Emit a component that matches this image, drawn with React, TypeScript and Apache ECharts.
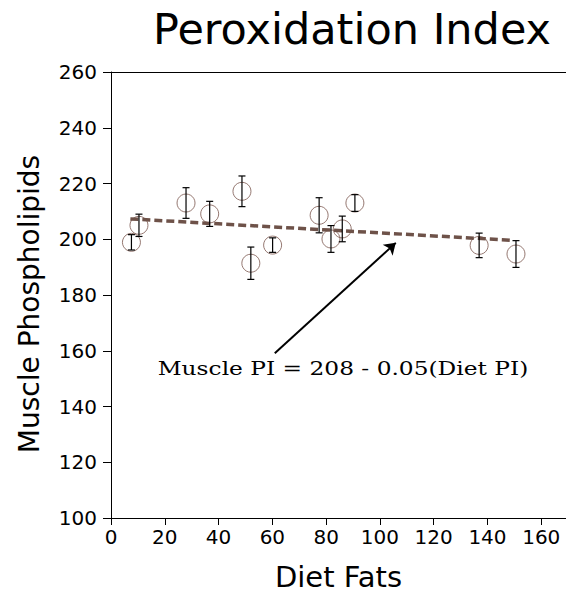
import React, { useEffect, useRef } from "react";
import * as echarts from "echarts";

const dietFats = [7.6, 10.4, 27.9, 36.7, 48.7, 52.0, 60.1, 77.4, 81.8, 86.0, 90.7, 136.9, 150.6];
const musclePI = [198.9, 205.0, 213.0, 209.1, 217.2, 191.4, 197.9, 208.6, 200.1, 203.7, 213.0, 197.8, 194.7];
const errorPI = [2.75, 4.0, 5.5, 4.5, 5.5, 5.8, 2.6, 6.3, 4.8, 4.6, 3.0, 4.4, 4.8];
const trendX = [7.2, 149.6];
const trendY = [207.3, 199.6];
const arrowStart = [60.9, 159.1];
const arrowEnd = [105.9, 198.7];
const xTicks = [0, 20, 40, 60, 80, 100, 120, 140, 160];
const equationText = "Muscle PI = 208 - 0.05(Diet PI)";
const yTitle = "Muscle Phospholipids";

const SANS = "DejaVu Sans";

export default function App() {
  const ref = useRef<HTMLDivElement>(null);
  useEffect(() => {
    if (!ref.current) return;
    const chart = echarts.init(ref.current, null, { renderer: "svg" });
    const points = dietFats.map((x, i) => [x, musclePI[i]]);
    const errs = dietFats.map((x, i) => [x, musclePI[i] - errorPI[i], musclePI[i] + errorPI[i]]);
    const trend = trendX.map((x, i) => [x, trendY[i]]);
    chart.setOption({
      animation: false,
      backgroundColor: "#ffffff",
      title: {
        text: "Peroxidation Index",
        left: 148,
        top: 2,
        textStyle: { fontFamily: SANS, fontSize: 43, fontWeight: "normal", color: "#000" },
      },
      grid: { left: 111, right: 0, top: 72, bottom: 77, containLabel: false },
      xAxis: [
        {
          type: "value",
          min: 0,
          max: 169.2,
          interval: 20,
          name: "Diet Fats",
          nameLocation: "middle",
          nameGap: 44,
          nameTextStyle: { fontFamily: SANS, fontSize: 29, color: "#000" },
          axisLine: { show: true, onZero: false, lineStyle: { color: "#000", width: 1 } },
          axisTick: { show: true, length: 7, customValues: xTicks, lineStyle: { color: "#000" } },
          axisLabel: { customValues: xTicks, fontFamily: SANS, fontSize: 20, color: "#000", margin: 9 },
          splitLine: { show: false },
        },
        {
          type: "value",
          position: "top",
          min: 0,
          max: 169.2,
          axisLine: { show: true, onZero: false, lineStyle: { color: "#000", width: 1 } },
          axisTick: { show: false },
          axisLabel: { show: false },
          splitLine: { show: false },
        },
      ],
      yAxis: {
        type: "value",
        min: 100,
        max: 260,
        interval: 20,
        axisLine: { show: true, onZero: false, lineStyle: { color: "#000", width: 1 } },
        axisTick: { show: true, length: 8, lineStyle: { color: "#000" } },
        axisLabel: { fontFamily: SANS, fontSize: 20, color: "#000", margin: 14 },
        splitLine: { show: false },
      },
      graphic: [
        {
          type: "text",
          x: 29,
          y: 304,
          rotation: Math.PI / 2,
          style: {
            text: yTitle,
            fontFamily: SANS,
            fontSize: 28,
            fill: "#000",
            align: "center",
            verticalAlign: "middle",
          },
        },
        {
          type: "text",
          x: 343,
          y: 368,
          scaleX: 1.26,
          style: {
            text: equationText,
            fontFamily: "DejaVu Serif",
            fontSize: 18.5,
            fill: "#000",
            align: "center",
            verticalAlign: "middle",
          },
        },
      ],
      series: [
        {
          type: "scatter",
          data: points,
          symbol: "circle",
          symbolSize: 18,
          itemStyle: { color: "rgba(255,255,255,0)", borderColor: "#7a564d", borderWidth: 1 },
          z: 2,
        },
        {
          type: "line",
          data: trend,
          symbol: "none",
          lineStyle: { color: "#6e5249", width: 3.5, type: [8, 4] },
          z: 3,
          markLine: {
            silent: true,
            symbol: ["none", "arrow"],
            symbolSize: 11,
            label: { show: false },
            lineStyle: { color: "#000", width: 2, type: "solid" },
            data: [[{ coord: arrowStart }, { coord: arrowEnd }]],
          },
        },
        {
          type: "custom",
          data: errs,
          z: 4,
          renderItem: (params: any, api: any) => {
            const x = api.value(0);
            const p1 = api.coord([x, api.value(1)]);
            const p2 = api.coord([x, api.value(2)]);
            const w = 3.5;
            const st = { stroke: "#000", lineWidth: 1.2 };
            return {
              type: "group",
              children: [
                { type: "line", shape: { x1: p1[0], y1: p1[1], x2: p2[0], y2: p2[1] }, style: st },
                { type: "line", shape: { x1: p1[0] - w, y1: p1[1], x2: p1[0] + w, y2: p1[1] }, style: st },
                { type: "line", shape: { x1: p2[0] - w, y1: p2[1], x2: p2[0] + w, y2: p2[1] }, style: st },
              ],
            };
          },
        },
      ],
    });
    return () => chart.dispose();
  }, []);
  return (
    <div
      ref={ref}
      style={{ position: "fixed", left: 0, top: 0, width: 566, height: 596, background: "#fff" }}
    />
  );
}
